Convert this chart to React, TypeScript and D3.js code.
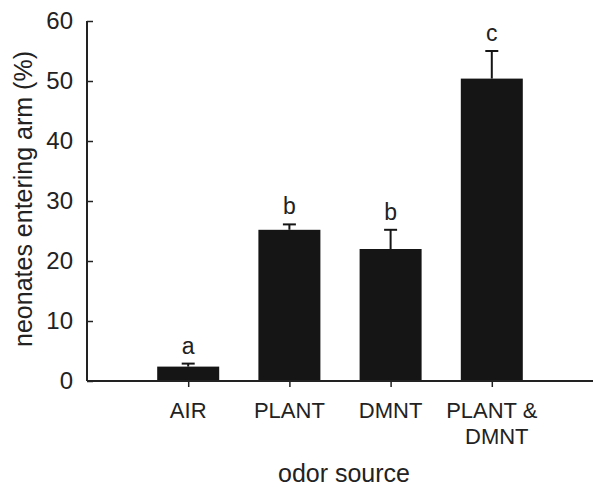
import React, { useRef, useEffect } from 'react';
import { select, scaleLinear, scalePoint, axisLeft, axisBottom } from 'd3';

const categories = ['AIR', 'PLANT', 'DMNT', 'PLANT & DMNT'];
const tickLines = [['AIR'], ['PLANT'], ['DMNT'], ['PLANT &', 'DMNT']];
const means = [2.4, 25.2, 22.0, 50.4];
const errors = [0.5, 0.9, 3.2, 4.6];
const letters = ['a', 'b', 'b', 'c'];
const yTicks = [0, 10, 20, 30, 40, 50, 60];

function App() {
  const svgRef = useRef(null);

  useEffect(() => {
    const width = 593;
    const height = 492;
    const margin = { left: 87, top: 21, right: 0, bottom: 112 };
    const svg = select(svgRef.current);
    svg.selectAll('*').remove();

    const font = '"Liberation Sans", Arial, sans-serif';
    const ink = '#222';
    const fs = 22;
    const titleFs = 25;

    const x = scalePoint()
      .domain(categories)
      .range([margin.left, width - margin.right])
      .padding(1);

    const y = scaleLinear()
      .domain([0, 60])
      .range([height - margin.bottom + 1, margin.top]);

    const barWidth = 62;

    // bars
    svg
      .selectAll('.bar')
      .data(categories)
      .join('rect')
      .attr('class', 'bar')
      .attr('x', (d) => x(d) - barWidth / 2)
      .attr('y', (d, i) => y(means[i]))
      .attr('width', barWidth)
      .attr('height', (d, i) => y(0) - y(means[i]))
      .attr('fill', '#151515');

    // error bars (upper only)
    const err = svg.append('g').attr('stroke', '#151515').attr('stroke-width', 2);
    categories.forEach((c, i) => {
      err
        .append('line')
        .attr('x1', x(c))
        .attr('x2', x(c))
        .attr('y1', y(means[i]))
        .attr('y2', y(means[i] + errors[i]));
      err
        .append('line')
        .attr('x1', x(c) - 6.5)
        .attr('x2', x(c) + 6.5)
        .attr('y1', y(means[i] + errors[i]))
        .attr('y2', y(means[i] + errors[i]));
    });

    // significance letters
    svg
      .selectAll('.letter')
      .data(categories)
      .join('text')
      .attr('class', 'letter')
      .attr('x', (d) => x(d))
      .attr('y', (d, i) => y(means[i] + errors[i]) - 10)
      .attr('text-anchor', 'middle')
      .attr('font-family', font)
      .attr('font-size', 23)
      .attr('fill', ink)
      .text((d, i) => letters[i]);

    // y axis
    const yAxis = svg
      .append('g')
      .attr('transform', `translate(${margin.left},0)`)
      .call(axisLeft(y).tickValues(yTicks).tickSize(-6).tickPadding(14));
    yAxis.select('.domain').attr('stroke', ink).attr('stroke-width', 2).attr('d', `M0,${y(60)}V${y(0)}`);
    yAxis.selectAll('.tick line').attr('stroke', ink).attr('stroke-width', 1.5);
    yAxis
      .selectAll('.tick text')
      .attr('font-family', font)
      .attr('font-size', 24)
      .attr('fill', ink);

    // x axis
    const xAxis = svg
      .append('g')
      .attr('transform', `translate(0,${y(0)})`)
      .call(axisBottom(x).tickSize(6).tickFormat(() => ''));
    xAxis.select('.domain').attr('stroke', ink).attr('stroke-width', 2).attr('d', `M${margin.left},0H${width}`);
    xAxis.selectAll('.tick line').attr('stroke', ink).attr('stroke-width', 1.5);

    // multi-line category labels
    categories.forEach((c, i) => {
      const t = svg
        .append('text')
        .attr('text-anchor', 'middle')
        .attr('font-family', font)
        .attr('font-size', fs)
        .attr('fill', ink);
      tickLines[i].forEach((line, j) => {
        t.append('tspan')
          .attr('x', x(c) + (j > 0 ? 5 : 0))
          .attr('y', y(0) + 37 + j * 26)
          .text(line);
      });
    });

    // axis titles
    svg
      .append('text')
      .attr('x', 344)
      .attr('y', 482)
      .attr('text-anchor', 'middle')
      .attr('font-family', font)
      .attr('font-size', titleFs)
      .attr('fill', ink)
      .text('odor source');

    svg
      .append('text')
      .attr('transform', 'translate(32,199) rotate(-90)')
      .attr('text-anchor', 'middle')
      .attr('font-family', font)
      .attr('font-size', titleFs)
      .attr('fill', ink)
      .text('neonates entering arm (%)');
  }, []);

  return (
    <svg
      ref={svgRef}
      width={593}
      height={492}
      style={{ position: 'absolute', left: 0, top: 0, background: '#fff' }}
    />
  );
}

export default App;
